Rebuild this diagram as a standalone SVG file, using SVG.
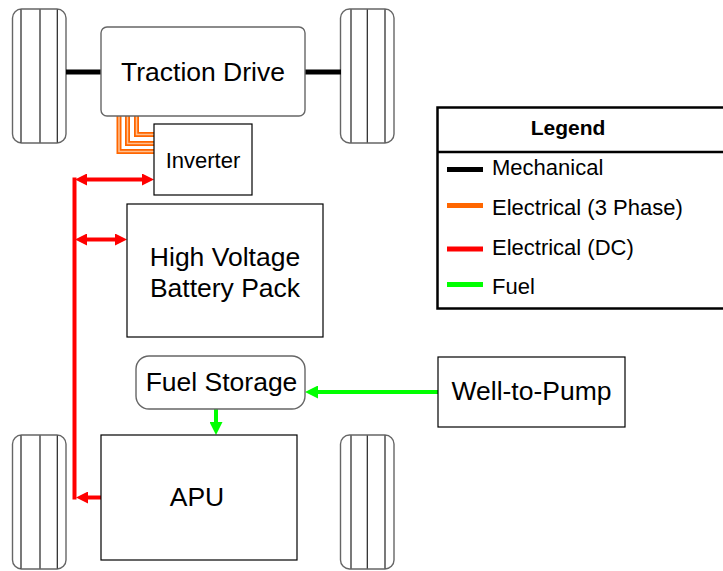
<svg xmlns="http://www.w3.org/2000/svg" width="723" height="571" viewBox="0 0 723 571">
<style>
text{font-family:"Liberation Sans",Arial,sans-serif;fill:#000}
.big{font-size:26.5px;text-anchor:middle}
.mid{font-size:22px;text-anchor:middle}
.leg{font-size:22px}
.tire{fill:#fff;stroke:#666;stroke-width:1.4}
.tread{stroke:#222;stroke-width:1.2}
.box{fill:#fff;stroke:#000;stroke-width:1.2}
.rbox{fill:#fff;stroke:#666;stroke-width:1.4}
.mech{stroke:#000;stroke-width:5;fill:none}
.ph{stroke:#ff6600;stroke-width:5;fill:none}
.phin{stroke:#ffc090;stroke-width:1.5;fill:none}
.dc{stroke:#ff0000;stroke-width:4;fill:none}
.fuel{stroke:#00ff00;stroke-width:4;fill:none}
</style>
<defs>
<marker id="ar" markerUnits="userSpaceOnUse" markerWidth="12" markerHeight="12" refX="2" refY="6" orient="auto-start-reverse" viewBox="0 0 12 12">
<path d="M0,0 L12,6 L0,12 z" fill="#ff0000"/>
</marker>
<marker id="ag" markerUnits="userSpaceOnUse" markerWidth="13" markerHeight="13" refX="2" refY="6.5" orient="auto" viewBox="0 0 13 13">
<path d="M0,0 L13,6.5 L0,13 z" fill="#00ff00"/>
</marker>
</defs>
<rect width="723" height="571" fill="#fff"/>

<g id="tire-fl">
<rect class="tire" x="12.5" y="9" width="53.5" height="134" rx="9"/>
<path class="tread" d="M21,9.5V142.5M40,9.5V142.5M57.3,9.5V142.5"/>
</g>
<g id="tire-fr">
<rect class="tire" x="340.5" y="9" width="53.5" height="134" rx="9"/>
<path class="tread" d="M351,9.5V142.5M367.3,9.5V142.5M385,9.5V142.5"/>
</g>
<g id="tire-rl">
<rect class="tire" x="12.5" y="435" width="53.5" height="134" rx="9"/>
<path class="tread" d="M21,435.5V568.5M40,435.5V568.5M57.3,435.5V568.5"/>
</g>
<g id="tire-rr">
<rect class="tire" x="340.5" y="435" width="53.5" height="134" rx="9"/>
<path class="tread" d="M351,435.5V568.5M367.3,435.5V568.5M385,435.5V568.5"/>
</g>

<g id="connectors">
<path class="mech" d="M66,72H101M305,72H341"/>
<path class="ph" d="M119,116V151.5H154M127.5,116V143.5H154M136.5,116V134.5H154"/>
<path class="phin" d="M119,116V151.5H154M127.5,116V143.5H154M136.5,116V134.5H154"/>
<path class="dc" d="M74.5,177.5V499.5"/>
<path class="dc" d="M85,179.5H144" marker-start="url(#ar)" marker-end="url(#ar)"/>
<path class="dc" d="M85,239.5H117" marker-start="url(#ar)" marker-end="url(#ar)"/>
<path class="dc" d="M101,497.5H86" marker-end="url(#ar)"/>
<path class="fuel" d="M438,392H316" marker-end="url(#ag)"/>
<path class="fuel" d="M216,409V424" marker-end="url(#ag)"/>
</g>

<g id="traction-drive">
<rect class="rbox" x="101" y="27" width="204" height="89" rx="6"/>
<text class="big" x="203" y="81">Traction Drive</text>
</g>
<g id="inverter">
<rect class="box" x="154" y="124" width="98" height="71"/>
<text class="mid" x="203" y="168">Inverter</text>
</g>
<g id="battery">
<rect class="box" x="127" y="204" width="196" height="133"/>
<text class="big" x="225" y="266">High Voltage</text>
<text class="big" x="225" y="297">Battery Pack</text>
</g>
<g id="fuel-storage">
<rect class="rbox" x="136" y="356" width="169" height="53" rx="13"/>
<text class="big" x="221.5" y="391">Fuel Storage</text>
</g>
<g id="well-to-pump">
<rect class="box" x="438" y="357" width="187" height="70"/>
<text class="big" x="531.5" y="400">Well-to-Pump</text>
</g>
<g id="apu">
<rect class="box" x="101" y="435" width="196" height="125"/>
<text class="big" x="197" y="506">APU</text>
</g>

<g id="legend">
<rect x="437.5" y="107.5" width="300" height="201" fill="#fff" stroke="#000" stroke-width="2.5"/>
<line x1="437.5" y1="152" x2="723" y2="152" stroke="#000" stroke-width="2.5"/>
<text x="568" y="135" font-size="21" font-weight="bold" text-anchor="middle">Legend</text>
<line x1="447" y1="169.5" x2="483" y2="169.5" stroke="#000" stroke-width="5"/>
<line x1="447" y1="205.5" x2="483" y2="205.5" stroke="#ff6600" stroke-width="5"/>
<line x1="447" y1="249" x2="483" y2="249" stroke="#ff0000" stroke-width="5"/>
<line x1="447" y1="284.5" x2="483" y2="284.5" stroke="#00ff00" stroke-width="5"/>
<text class="leg" x="492" y="175">Mechanical</text>
<text class="leg" x="492" y="215">Electrical (3 Phase)</text>
<text class="leg" x="492" y="255">Electrical (DC)</text>
<text class="leg" x="492" y="294">Fuel</text>
</g>
</svg>
